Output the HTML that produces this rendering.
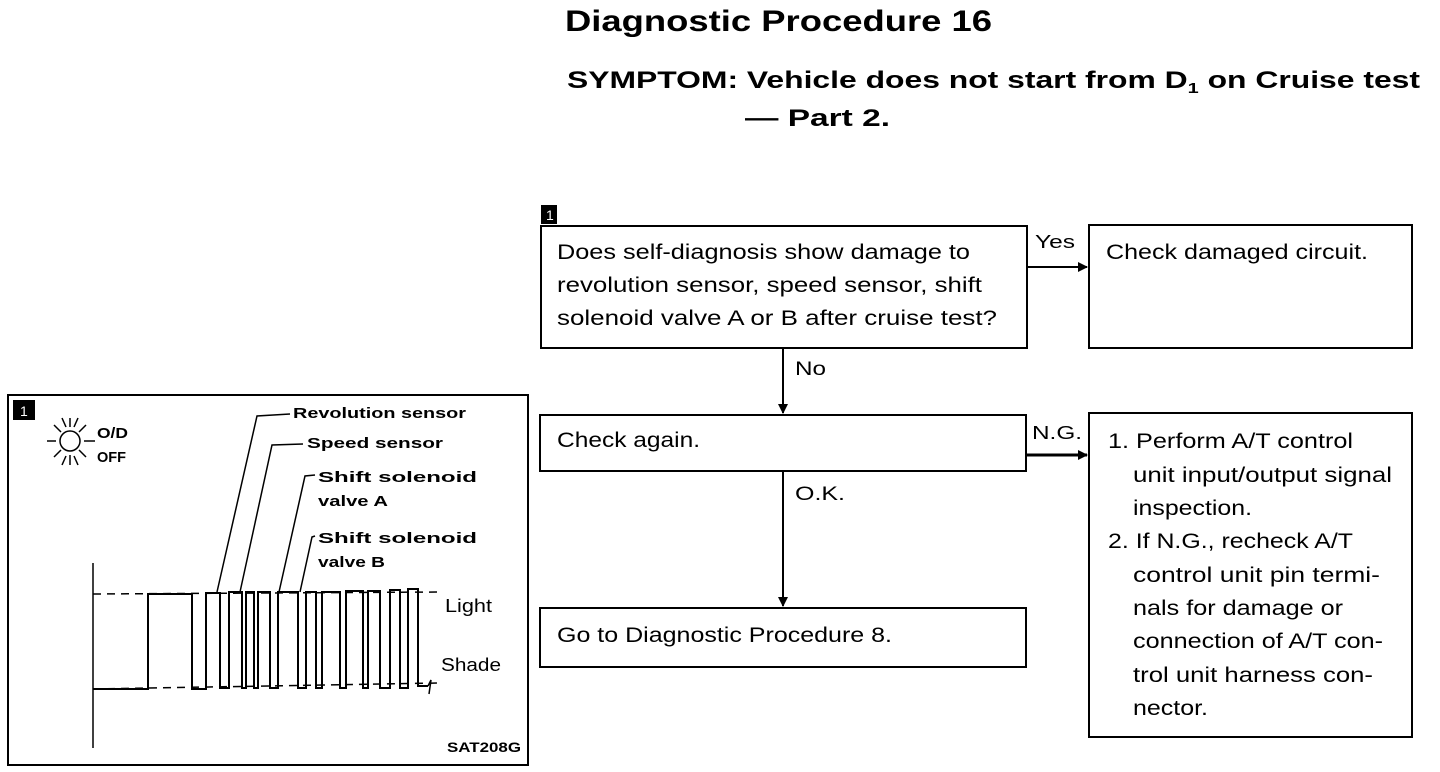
<!DOCTYPE html>
<html><head><meta charset="utf-8"><style>
html,body{margin:0;padding:0;background:#fff;}
svg{display:block;}
text{font-family:"Liberation Sans",sans-serif;fill:#000;}
.b{font-weight:bold;}
.t{font-size:21px;}
</style></head><body>
<svg width="1440" height="772" viewBox="0 0 1440 772" xmlns="http://www.w3.org/2000/svg">
<defs><marker id="ah" markerWidth="10" markerHeight="10" refX="9" refY="5" orient="auto" markerUnits="userSpaceOnUse"><path d="M0,0 L10,5 L0,10 z" fill="#000"/></marker></defs>
<text x="565" y="31" class="b" font-size="30" textLength="427" lengthAdjust="spacingAndGlyphs">Diagnostic Procedure 16</text>
<text x="567" y="88" class="b" font-size="24" textLength="853" lengthAdjust="spacingAndGlyphs">SYMPTOM: Vehicle does not start from D<tspan font-size="15" dy="5">1</tspan><tspan dy="-5"> on Cruise test</tspan></text>
<text x="745" y="126" class="b" font-size="24" textLength="145" lengthAdjust="spacingAndGlyphs">— Part 2.</text>

<rect x="541" y="205" width="16" height="19" fill="#000"/>
<text x="546" y="220" font-size="14" style="fill:#fff">1</text>

<g fill="none" stroke="#000" stroke-width="2">
<rect x="541" y="226" width="486" height="122"/>
<rect x="1089" y="225" width="323" height="123"/>
<rect x="540" y="415" width="486" height="56"/>
<rect x="1089" y="413" width="323" height="324"/>
<rect x="540" y="608" width="486" height="59"/>
<line x1="1027" y1="267" x2="1087" y2="267" marker-end="url(#ah)"/>
<line x1="1026" y1="455" x2="1087" y2="455" stroke-width="3" marker-end="url(#ah)"/>
<line x1="783" y1="348" x2="783" y2="413" marker-end="url(#ah)"/>
<line x1="783" y1="471" x2="783" y2="606" marker-end="url(#ah)"/>
</g>
<text x="1035" y="248" font-size="18" textLength="40" lengthAdjust="spacingAndGlyphs">Yes</text>
<text x="1032" y="439" font-size="18" textLength="50" lengthAdjust="spacingAndGlyphs">N.G.</text>
<text x="795" y="375" font-size="19" textLength="31" lengthAdjust="spacingAndGlyphs">No</text>
<text x="795" y="500" font-size="19" textLength="50" lengthAdjust="spacingAndGlyphs">O.K.</text>

<text x="557" y="259" class="t" textLength="413" lengthAdjust="spacingAndGlyphs">Does self-diagnosis show damage to</text>
<text x="557" y="292" class="t" textLength="425" lengthAdjust="spacingAndGlyphs">revolution sensor, speed sensor, shift</text>
<text x="557" y="325" class="t" textLength="440" lengthAdjust="spacingAndGlyphs">solenoid valve A or B after cruise test?</text>
<text x="1106" y="259" class="t" textLength="262" lengthAdjust="spacingAndGlyphs">Check damaged circuit.</text>
<text x="557" y="447" class="t" textLength="143" lengthAdjust="spacingAndGlyphs">Check again.</text>
<text x="557" y="642" class="t" textLength="335" lengthAdjust="spacingAndGlyphs">Go to Diagnostic Procedure 8.</text>
<text x="1108" y="448" class="t" textLength="245" lengthAdjust="spacingAndGlyphs">1. Perform A/T control</text>
<text x="1133" y="482" class="t" textLength="259" lengthAdjust="spacingAndGlyphs">unit input/output signal</text>
<text x="1133" y="515" class="t" textLength="119" lengthAdjust="spacingAndGlyphs">inspection.</text>
<text x="1108" y="548" class="t" textLength="245" lengthAdjust="spacingAndGlyphs">2. If N.G., recheck A/T</text>
<text x="1133" y="582" class="t" textLength="247" lengthAdjust="spacingAndGlyphs">control unit pin termi-</text>
<text x="1133" y="615" class="t" textLength="210" lengthAdjust="spacingAndGlyphs">nals for damage or</text>
<text x="1133" y="648" class="t" textLength="250" lengthAdjust="spacingAndGlyphs">connection of A/T con-</text>
<text x="1133" y="682" class="t" textLength="240" lengthAdjust="spacingAndGlyphs">trol unit harness con-</text>
<text x="1133" y="715" class="t" textLength="75" lengthAdjust="spacingAndGlyphs">nector.</text>

<!-- left panel -->
<rect x="8" y="395" width="520" height="370" fill="none" stroke="#000" stroke-width="2"/>
<rect x="13" y="400" width="22" height="20" fill="#000"/>
<text x="20" y="416" font-size="14" style="fill:#fff">1</text>
<g stroke="#000" stroke-width="1.5" fill="none">
<circle cx="70" cy="441" r="10"/>
<line x1="70" y1="418" x2="70" y2="427"/><line x1="70" y1="455" x2="70" y2="465"/>
<line x1="47" y1="441" x2="56" y2="441"/><line x1="84" y1="441" x2="95" y2="441"/>
<line x1="54" y1="425" x2="61" y2="432"/><line x1="86" y1="425" x2="79" y2="432"/>
<line x1="54" y1="457" x2="61" y2="450"/><line x1="86" y1="457" x2="79" y2="450"/>
<line x1="62" y1="418" x2="66" y2="427"/><line x1="78" y1="418" x2="74" y2="427"/>
<line x1="62" y1="465" x2="66" y2="456"/><line x1="78" y1="465" x2="74" y2="456"/>
</g>
<text x="97" y="438" font-size="15" class="b" textLength="31" lengthAdjust="spacingAndGlyphs">O/D</text>
<text x="97" y="462" font-size="15" class="b" textLength="29" lengthAdjust="spacingAndGlyphs">OFF</text>

<g stroke="#000" stroke-width="1.5" fill="none">
<line x1="93" y1="563" x2="93" y2="748"/>
<line x1="93" y1="594" x2="440" y2="592" stroke-dasharray="8,6"/>
<line x1="93" y1="689" x2="440" y2="683" stroke-dasharray="8,6"/>
<path stroke-width="2" d="M93,689 H148 V594 H192 V689 H206 V593 H220 V688 H229 V592 H242 V688 H246 V592 H254 V688 H258 V592 H270 V688 H278 V592 H298 V688 H306 V592 H316 V688 H322 V592 H340 V688 H346 V591 H363 V688 H368 V591 H380 V688 H390 V590 H400 V688 H408 V589 H418 V686 H428"/>
<path d="M428,686 l3,-6 l-2,14"/>
<polyline points="217,592 257,416 290,414"/>
<polyline points="240,592 272,445 303,444"/>
<polyline points="279,592 305,476 315,475"/>
<polyline points="300,592 312,537 315,536"/>
</g>
<text x="293" y="418" font-size="15" class="b" textLength="173" lengthAdjust="spacingAndGlyphs">Revolution sensor</text>
<text x="307" y="448" font-size="15" class="b" textLength="136" lengthAdjust="spacingAndGlyphs">Speed sensor</text>
<text x="318" y="482" font-size="15" class="b" textLength="159" lengthAdjust="spacingAndGlyphs">Shift solenoid</text>
<text x="318" y="506" font-size="15" class="b" textLength="70" lengthAdjust="spacingAndGlyphs">valve A</text>
<text x="318" y="543" font-size="15" class="b" textLength="159" lengthAdjust="spacingAndGlyphs">Shift solenoid</text>
<text x="318" y="567" font-size="15" class="b" textLength="67" lengthAdjust="spacingAndGlyphs">valve B</text>
<text x="445" y="612" font-size="18" textLength="47" lengthAdjust="spacingAndGlyphs">Light</text>
<text x="441" y="671" font-size="18" textLength="60" lengthAdjust="spacingAndGlyphs">Shade</text>
<text x="447" y="752" font-size="14" class="b" textLength="74" lengthAdjust="spacingAndGlyphs">SAT208G</text>
</svg>
</body></html>
